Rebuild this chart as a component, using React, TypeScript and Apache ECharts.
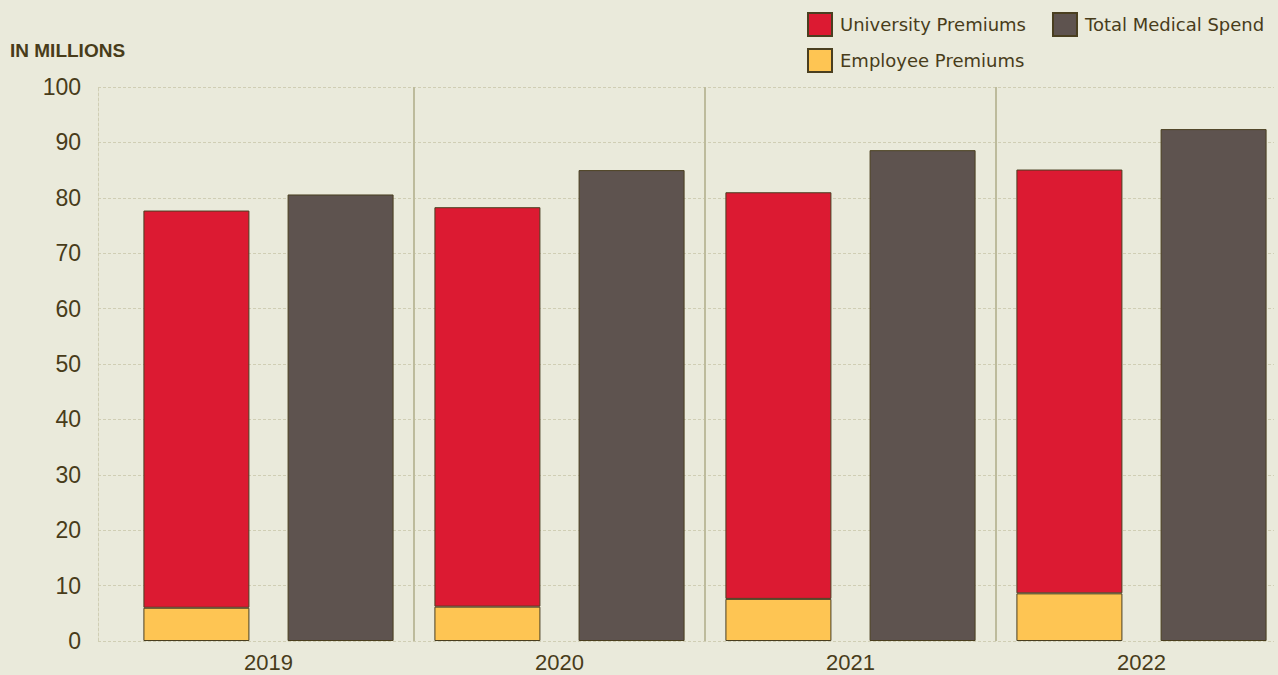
import React, { useEffect, useRef } from "react";
import * as echarts from "echarts";

const years = ["2019", "2020", "2021", "2022"];
const employeePremiums = [6.0, 6.2, 7.6, 8.6];
const universityPremiums = [71.7, 72.1, 73.4, 76.5];
const totalMedicalSpend = [80.6, 85.0, 88.6, 92.4];
const yMin = 0;
const yMax = 100;
const yStep = 10;

const TEXT = "#483c1a";
const BG = "#eaeadb";
const BORDER = "#4a3f20";
const GRIDLINE = "#d0ceb4";

export default function App() {
  const ref = useRef<HTMLDivElement>(null);
  useEffect(() => {
    if (!ref.current) return;
    const chart = echarts.init(ref.current, undefined, { renderer: "svg" });
    const legendText = {
      fontFamily: "DejaVu Sans",
      fontSize: 18,
      color: TEXT,
      padding: [0, 0, 0, 3],
    };
    chart.setOption({
      animation: false,
      backgroundColor: BG,
      textStyle: { fontFamily: "Liberation Sans" },
      title: {
        text: "IN MILLIONS",
        left: 10,
        top: 41,
        padding: 0,
        textStyle: {
          fontFamily: "Liberation Sans",
          fontWeight: "bold",
          fontSize: 19,
          color: TEXT,
        },
      },
      legend: [
        {
          data: ["University Premiums", "Total Medical Spend"],
          left: 807,
          top: 12,
          padding: 0,
          itemWidth: 24,
          itemHeight: 23,
          itemGap: 26,
          icon: "rect",
          selectedMode: false,
          textStyle: legendText,
        },
        {
          data: ["Employee Premiums"],
          left: 807,
          top: 48,
          padding: 0,
          itemWidth: 24,
          itemHeight: 23,
          icon: "rect",
          selectedMode: false,
          textStyle: legendText,
        },
      ],
      grid: [
        { left: 123, top: 87, width: 1164, height: 554, outerBoundsMode: "none", containLabel: false },
        { left: 98, top: 87, width: 1176, height: 554, outerBoundsMode: "none", containLabel: false },
      ],
      xAxis: [
        {
          type: "category",
          gridIndex: 0,
          data: years,
          axisLine: { show: false },
          axisTick: { show: false },
          axisLabel: {
            fontFamily: "Liberation Sans",
            fontSize: 22,
            lineHeight: 22,
            color: TEXT,
            margin: 10,
          },
          splitLine: {
            show: true,
            showMinLine: false,
            interval: 0,
            lineStyle: { color: "#bdbb9c", width: 2 },
          },
        },
        {
          type: "category",
          gridIndex: 1,
          show: false,
          data: years,
        },
      ],
      yAxis: [
        {
          type: "value",
          gridIndex: 0,
          min: yMin,
          max: yMax,
          interval: yStep,
          show: false,
          splitLine: { show: false },
        },
        {
          type: "value",
          gridIndex: 1,
          min: yMin,
          max: yMax,
          interval: yStep,
          axisLine: {
            show: true,
            lineStyle: { color: GRIDLINE, type: [3, 2], width: 1 },
          },
          axisTick: { show: false },
          axisLabel: {
            fontFamily: "Liberation Sans",
            fontSize: 23,
            color: TEXT,
            margin: 17,
          },
          splitLine: {
            show: true,
            lineStyle: { color: GRIDLINE, type: [3, 2], width: 1 },
          },
        },
      ],
      series: [
        {
          name: "Employee Premiums",
          type: "bar",
          stack: "premiums",
          xAxisIndex: 0,
          yAxisIndex: 0,
          data: employeePremiums,
          barWidth: 106,
          barGap: "36%",
          itemStyle: { color: "#fec553", borderColor: BORDER, borderWidth: 1 },
        },
        {
          name: "University Premiums",
          type: "bar",
          stack: "premiums",
          xAxisIndex: 0,
          yAxisIndex: 0,
          data: universityPremiums,
          barWidth: 106,
          barGap: "36%",
          itemStyle: { color: "#dc1a32", borderColor: BORDER, borderWidth: 1 },
        },
        {
          name: "Total Medical Spend",
          type: "bar",
          xAxisIndex: 0,
          yAxisIndex: 0,
          data: totalMedicalSpend,
          barWidth: 106,
          barGap: "36%",
          itemStyle: { color: "#5e534f", borderColor: BORDER, borderWidth: 1 },
        },
      ],
    });
    return () => chart.dispose();
  }, []);
  return (
    <div
      ref={ref}
      style={{ position: "absolute", left: 0, top: 0, width: 1278, height: 675 }}
    />
  );
}
